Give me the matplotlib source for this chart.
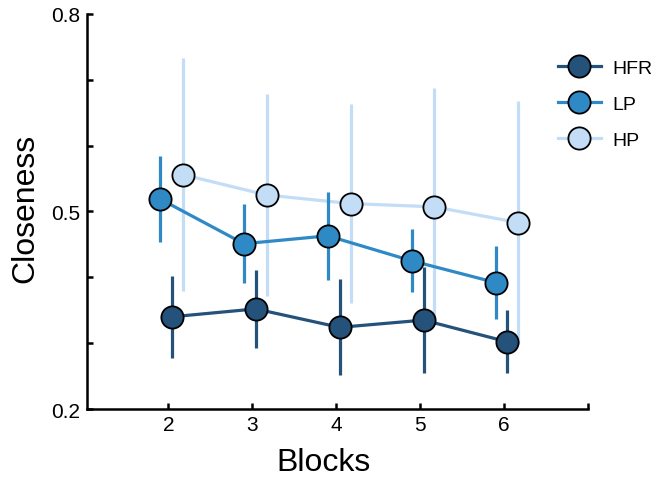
import matplotlib
matplotlib.use("Agg")
import matplotlib.pyplot as plt
import numpy as np

plt.rcParams["font.family"] = ["Liberation Sans", "DejaVu Sans"]

blocks = [2, 3, 4, 5, 6]
groups = ["HFR", "LP", "HP"]
colors = {"HFR": "#24527a", "LP": "#2e89c5", "HP": "#c2ddf5"}
offsets = {"HFR": 0.04, "LP": -0.10, "HP": 0.17}

closeness = {
    "HFR": [0.340, 0.352, 0.324, 0.335, 0.302],
    "LP": [0.519, 0.451, 0.463, 0.425, 0.392],
    "HP": [0.556, 0.525, 0.512, 0.507, 0.483],
}
sem = {
    "HFR": [0.062, 0.059, 0.073, 0.080, 0.048],
    "LP": [0.065, 0.060, 0.067, 0.048, 0.055],
    "HP": [0.177, 0.153, 0.151, 0.180, 0.185],
}

fig = plt.figure(figsize=(6.69, 4.81), dpi=100)
ax = fig.add_axes([0.130, 0.1476, 0.749, 0.8214])

# draw light groups first so the darker ones sit on top
for z, g in zip((2, 4, 6), reversed(groups)):
    x = np.array(blocks) + offsets[g]
    ax.errorbar(x, closeness[g], yerr=sem[g], fmt="none", ecolor=colors[g],
                elinewidth=2.3, capsize=0, zorder=z)
for z, g in zip((3, 5, 7), reversed(groups)):
    x = np.array(blocks) + offsets[g]
    ax.plot(x, closeness[g], color=colors[g], lw=2.3, marker="o", ms=16,
            mfc=colors[g], mec="black", mew=1.3, label=g, zorder=z)

ax.set_xlim(1.03, 7.0)
ax.set_ylim(0.2, 0.8)
ax.set_xticks(blocks)
ax.set_xticks([7], minor=True)
ax.set_yticks([0.2, 0.5, 0.8])
ax.set_yticks([0.3, 0.4, 0.6, 0.7], minor=True)
ax.tick_params(which="both", direction="in", length=4, width=1.8, labelsize=15)
ax.tick_params(axis="y", pad=5)
ax.tick_params(axis="x", pad=4)
for side in ("top", "right"):
    ax.spines[side].set_visible(False)
for side in ("left", "bottom"):
    ax.spines[side].set_linewidth(1.8)

ax.set_xlabel("Blocks", fontsize=23)
ax.xaxis.set_label_coords(0.473, -0.095)
ax.set_ylabel("Closeness", fontsize=23)
ax.yaxis.set_label_coords(-0.092, 0.51)

handles, labels = ax.get_legend_handles_labels()
order = [labels.index(g) for g in groups]
ax.legend([handles[i] for i in order], [labels[i] for i in order],
          loc="upper left", bbox_to_anchor=(0.905, 0.93), frameon=False,
          fontsize=14, handlelength=2.2, labelspacing=0.95, handletextpad=0.6)

fig.savefig("out.png", dpi=100)
